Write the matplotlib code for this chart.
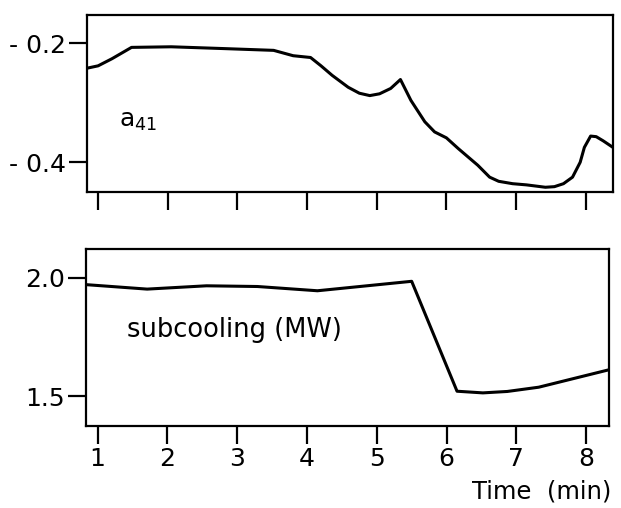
import matplotlib
matplotlib.use('Agg')
import matplotlib.pyplot as plt
import numpy as np

# a41 coefficient
t_a41 = [0.84, 1.0, 1.2, 1.48, 2.05, 2.8, 3.52, 3.80, 4.05, 4.20, 4.36, 4.59, 4.75, 4.90,
         5.04, 5.20, 5.34, 5.49, 5.69, 5.83, 6.00, 6.17, 6.45, 6.62, 6.75, 6.95, 7.15,
         7.42, 7.55, 7.68, 7.81, 7.92, 7.98, 8.07, 8.15, 8.25, 8.39]
a41 = [-0.242, -0.238, -0.226, -0.207, -0.206, -0.209, -0.212, -0.221, -0.224, -0.238,
       -0.254, -0.274, -0.284, -0.288, -0.285, -0.276, -0.261, -0.296, -0.332, -0.349,
       -0.359, -0.377, -0.405, -0.425, -0.432, -0.436, -0.438, -0.442, -0.441, -0.436,
       -0.425, -0.400, -0.375, -0.356, -0.357, -0.364, -0.375]

# subcooling (MW)
t_sub = [0.83, 1.71, 2.56, 3.29, 4.15, 5.50, 6.15, 6.52, 6.87, 7.32, 8.33]
sub = [1.972, 1.953, 1.967, 1.964, 1.946, 1.986, 1.521, 1.514, 1.520, 1.538, 1.612]

xticks = [1, 2, 3, 4, 5, 6, 7, 8]

plt.rcParams['font.family'] = 'DejaVu Sans'

fig = plt.figure(figsize=(6.21, 5.08), dpi=100)
ax1 = fig.add_axes([0.140, 0.622, 0.847, 0.348])
ax2 = fig.add_axes([0.138, 0.161, 0.843, 0.349])

for ax in (ax1, ax2):
    for s in ax.spines.values():
        s.set_linewidth(1.6)
    ax.tick_params(direction='out', length=13, width=1.6, labelsize=18, pad=2)

ax1.plot(t_a41, a41, color='black', lw=2.2)
ax1.set_xlim(0.84, 8.39)
ax1.set_ylim(-0.450, -0.153)
ax1.set_xticks(xticks)
ax1.set_xticklabels([])
ax1.set_yticks([-0.2, -0.4])
ax1.set_yticklabels(['- 0.2', '- 0.4'])
ax1.text(1.30, -0.33, r'$\mathregular{a_{41}}$', fontsize=18, va='center')

ax2.plot(t_sub, sub, color='black', lw=2.2)
ax2.set_xlim(0.83, 8.33)
ax2.set_ylim(1.373, 2.123)
ax2.set_xticks(xticks)
ax2.set_xticklabels([str(v) for v in xticks])
ax2.set_yticks([1.5, 2.0])
ax2.set_yticklabels(['1.5', '2.0'])
ax2.text(1.42, 1.78, 'subcooling (MW)', fontsize=18.5, va='center')

fig.text(0.985, 0.008, 'Time  (min)', fontsize=17.5, ha='right', va='bottom')

fig.savefig('out.png', dpi=100)
